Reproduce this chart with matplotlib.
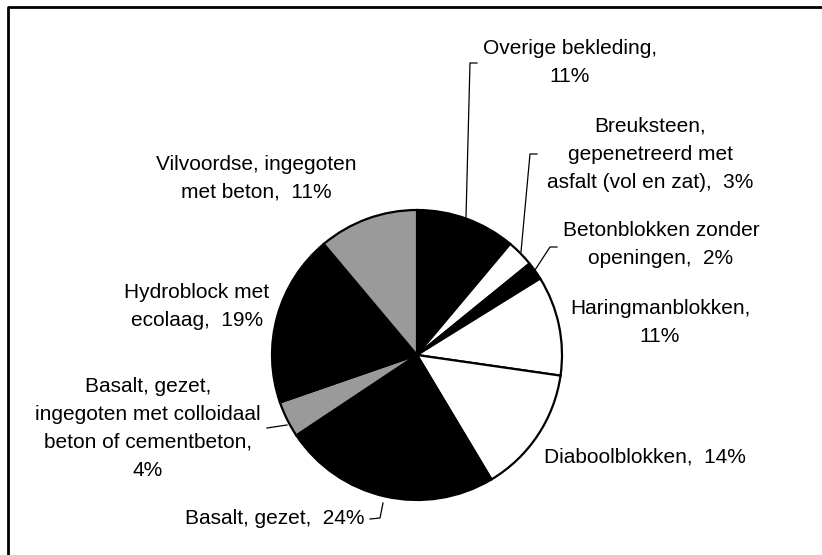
import matplotlib.pyplot as plt

# shares of each revetment type, clockwise from 12 o'clock
labels = [
    'Overige bekleding,\n11%',
    'Breuksteen,\ngepenetreerd met\nasfalt (vol en zat),  3%',
    'Betonblokken zonder\nopeningen,  2%',
    'Haringmanblokken,\n11%',
    'Diaboolblokken,  14%',
    'Basalt, gezet,  24%',
    'Basalt, gezet,\ningegoten met colloidaal\nbeton of cementbeton,\n4%',
    'Hydroblock met\necolaag,  19%',
    'Vilvoordse, ingegoten\nmet beton,  11%',
]
shares = [11, 3, 2, 11, 14, 24, 4, 19, 11]
fills = ['black', 'white', 'black', 'white', 'white', 'black', '#9a9a9a', 'black', '#9a9a9a']

W, H = 822, 555
fig = plt.figure(figsize=(W / 100, H / 100), dpi=100)
ax = fig.add_axes([0, 0, 1, 1])

def py(y):
    # pixel row (from top) -> data y
    return H - y

cx, cy, r = 417, 355, 145
ax.pie(shares, startangle=90, counterclock=False, colors=fills,
       center=(cx, py(cy)), radius=r, frame=True,
       wedgeprops=dict(edgecolor='black', linewidth=1.6))

ax.set_xlim(0, W)
ax.set_ylim(0, H)
ax.set_aspect('equal')
ax.axis('off')

# label centres in pixels
pos = [(570, 62), (650, 154), (661, 245), (660, 322), (645, 457),
       (275, 518), (148, 428), (197, 306), (256, 178)]
for lab, (x, y) in zip(labels, pos):
    ax.text(x, py(y), lab, ha='center', va='center', multialignment='center',
            fontsize=15, family='Liberation Sans', linespacing=1.6)

# leader lines
leaders = [
    [(477, 63), (470, 63), (466, 217)],
    [(537, 154), (530, 154), (521, 252)],
    [(557, 247), (550, 247), (535, 270)],
    [(370, 519), (380, 518), (383, 503)],
    [(267, 428), (287, 425)],
]
for pts in leaders:
    xs = [p[0] for p in pts]
    ys = [py(p[1]) for p in pts]
    ax.plot(xs, ys, color='black', linewidth=0.9)

# outer frame (only left and top edges inside the crop)
ax.plot([8, 8, W + 5], [py(H + 5), py(7), py(7)], color='black', linewidth=2,
        clip_on=False)

fig.savefig('out.png', dpi=100)
